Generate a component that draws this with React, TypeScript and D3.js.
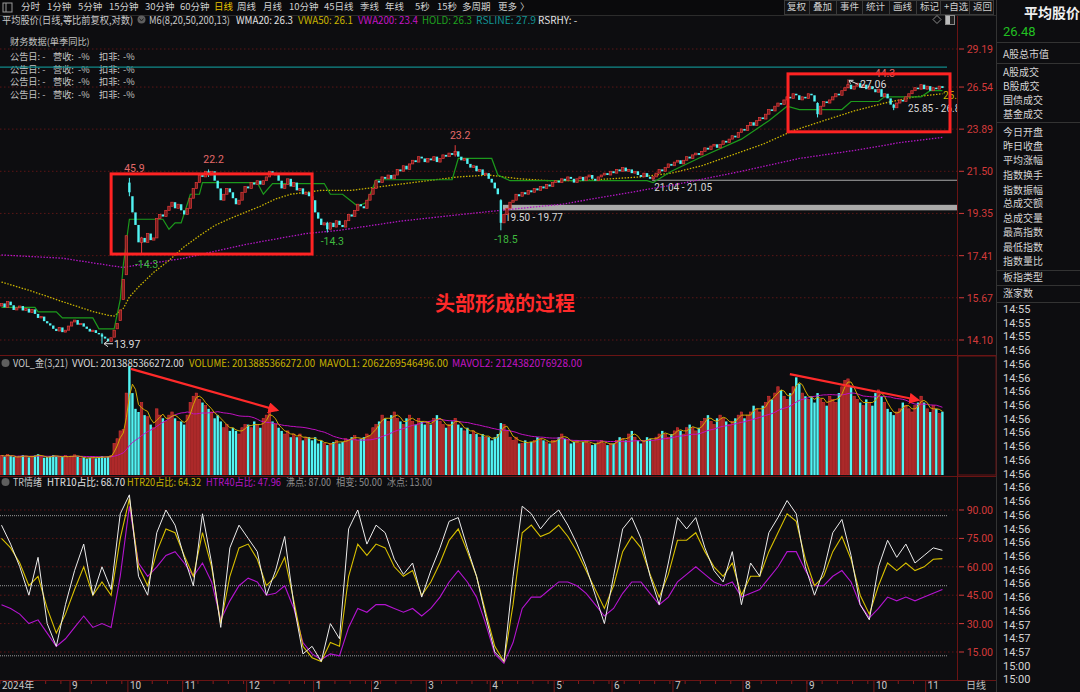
import React from "react";
import * as d3 from "d3";

const FONT = "'Noto Sans CJK SC','Noto Sans',sans-serif";
const NUMFONT = "Roboto,'Noto Sans',sans-serif";
const BG = "#0d0d10";
const UP = "#e23b3b";
const UP_FILL = "#7a1c1c";
const DOWN = "#52f4f4";
const GRID = "#5c1616";
const AXIS_RED = "#d23a3a";

// ---------------- data ----------------
const monthIdx = [23, 42, 60, 81, 103, 122, 140, 161, 182, 201, 221, 244, 265, 287, 304];
const monthLabels = ["9", "10", "11", "12", "1", "2", "3", "4", "5", "6", "7", "8", "9", "10", "11"];

const priceTicks = [29.19, 26.54, 23.89, 21.5, 19.35, 17.41, 15.67, 14.1];
const trTicks = [90, 75, 60, 45, 30, 15];
const trLevels = [87, 50, 13];

const closes = [
  15.45, 15.30, 15.52, 15.38, 15.20, 15.28, 15.35, 15.18, 15.25, 15.10,
  15.22, 15.05, 14.90, 14.95, 14.78, 14.70, 14.62, 14.50, 14.42, 14.55,
  14.38, 14.45, 14.60, 14.75, 14.82, 14.65, 14.70, 14.58, 14.50, 14.40,
  14.45, 14.35, 14.30, 14.22, 14.15, 14.05, 14.18, 14.45, 14.70, 15.20,
  16.40, 18.30, 20.40, 19.40, 18.80, 18.00, 18.20, 18.00, 18.40, 18.10,
  18.20, 19.10, 19.30, 19.20, 19.50, 19.70, 19.90, 19.60, 19.80, 19.50,
  19.30, 19.60, 20.10, 20.60, 20.90, 21.30, 21.20, 21.50, 21.30, 21.50,
  21.00, 20.60, 20.00, 20.30, 20.60, 20.40, 20.10, 19.80, 20.00, 20.40,
  20.70, 20.60, 20.90, 20.80, 21.00, 20.80, 21.00, 21.20, 21.50, 21.30,
  21.40, 21.00, 20.60, 20.80, 21.10, 20.70, 20.90, 20.50, 20.60, 20.30,
  20.40, 20.20, 20.00, 19.40, 19.10, 18.80, 18.90, 18.60, 18.90, 18.70,
  19.00, 18.80, 18.70, 19.00, 19.30, 19.20, 19.50, 19.80, 19.70, 19.60,
  20.00, 20.30, 20.60, 21.00, 20.90, 21.20, 21.10, 21.30, 21.10, 21.30,
  21.60, 21.50, 21.80, 21.60, 21.90, 22.10, 22.00, 22.30, 22.20, 22.00,
  22.20, 22.10, 22.30, 22.00, 22.20, 22.40, 22.30, 22.50, 22.40, 22.60,
  22.30, 22.10, 22.20, 21.90, 21.70, 21.80, 21.50, 21.60, 21.30, 21.40,
  21.10, 20.90, 20.60, 20.30, 18.90, 19.30, 19.60, 19.90, 20.00, 20.30,
  20.20, 20.40, 20.30, 20.50, 20.40, 20.60, 20.50, 20.70, 20.60, 20.80,
  20.70, 20.90, 21.00, 20.90, 21.10, 21.00, 21.20, 21.10, 20.90, 21.10,
  21.20, 21.00, 21.20, 21.30, 21.10, 21.00, 21.20, 21.30, 21.40, 21.30,
  21.50, 21.40, 21.60, 21.50, 21.70, 21.50, 21.60, 21.40, 21.50, 21.30,
  21.20, 21.40, 21.20, 21.10, 21.20, 21.40, 21.60, 21.50, 21.70, 21.90,
  21.80, 22.00, 22.10, 21.90, 22.10, 22.30, 22.20, 22.40, 22.50, 22.40,
  22.60, 22.80, 22.70, 22.90, 23.00, 22.80, 23.00, 23.20, 23.10, 23.30,
  23.50, 23.40, 23.70, 23.90, 23.80, 24.10, 24.30, 24.10, 24.40, 24.60,
  24.50, 24.80, 25.10, 25.00, 25.30, 25.50, 25.40, 25.70, 25.90, 25.80,
  26.10, 26.00, 25.70, 25.90, 25.80, 26.10, 26.00, 25.60, 24.80, 25.30,
  25.60, 25.50, 25.70, 25.90, 26.10, 26.00, 26.30, 26.50, 26.70, 26.40,
  26.60, 26.80, 26.50, 26.70, 26.40, 26.60, 26.40, 26.20, 26.40, 25.90,
  26.10, 25.80, 25.40, 25.20, 25.50, 25.70, 25.60, 25.90, 26.10, 26.30,
  26.50, 26.40, 26.70, 26.40, 26.60, 26.30, 26.50, 26.40, 26.60, 26.48,
];

const opens = [
  15.35, 15.45, 15.30, 15.52, 15.38, 15.20, 15.28, 15.35, 15.18, 15.25,
  15.10, 15.22, 15.05, 14.90, 14.95, 14.78, 14.70, 14.62, 14.50, 14.42,
  14.55, 14.38, 14.45, 14.60, 14.75, 14.82, 14.65, 14.70, 14.58, 14.50,
  14.40, 14.45, 14.35, 14.30, 14.22, 14.15, 14.05, 14.20, 14.50, 14.80,
  15.60, 16.60, 20.90, 20.20, 19.40, 18.80, 18.00, 18.20, 18.00, 18.40,
  18.10, 18.20, 19.10, 19.30, 19.20, 19.50, 19.70, 19.90, 19.60, 19.80,
  19.50, 19.30, 19.60, 20.10, 20.60, 20.90, 21.30, 21.20, 21.50, 21.30,
  21.50, 21.00, 20.60, 20.00, 20.30, 20.60, 20.40, 20.10, 19.80, 20.00,
  20.40, 20.70, 20.60, 20.90, 20.80, 21.00, 20.80, 21.00, 21.20, 21.50,
  21.30, 21.40, 21.00, 20.60, 20.80, 21.10, 20.70, 20.90, 20.50, 20.60,
  20.30, 20.40, 20.20, 20.00, 19.40, 19.10, 18.80, 18.90, 18.60, 18.90,
  18.70, 19.00, 18.80, 18.70, 19.00, 19.30, 19.20, 19.50, 19.80, 19.70,
  19.60, 20.00, 20.30, 20.60, 21.00, 20.90, 21.20, 21.10, 21.30, 21.10,
  21.30, 21.60, 21.50, 21.80, 21.60, 21.90, 22.10, 22.00, 22.30, 22.20,
  22.00, 22.20, 22.10, 22.30, 22.00, 22.20, 22.40, 22.30, 22.50, 22.40,
  22.60, 22.30, 22.10, 22.20, 21.90, 21.70, 21.80, 21.50, 21.60, 21.30,
  21.40, 21.10, 20.90, 20.60, 20.00, 18.90, 19.30, 19.60, 19.90, 20.00,
  20.30, 20.20, 20.40, 20.30, 20.50, 20.40, 20.60, 20.50, 20.70, 20.60,
  20.80, 20.70, 20.90, 21.00, 20.90, 21.10, 21.00, 21.20, 21.10, 20.90,
  21.10, 21.20, 21.00, 21.20, 21.30, 21.10, 21.00, 21.20, 21.30, 21.40,
  21.30, 21.50, 21.40, 21.60, 21.50, 21.70, 21.50, 21.60, 21.40, 21.50,
  21.30, 21.20, 21.40, 21.20, 21.10, 21.20, 21.40, 21.60, 21.50, 21.70,
  21.90, 21.80, 22.00, 22.10, 21.90, 22.10, 22.30, 22.20, 22.40, 22.50,
  22.40, 22.60, 22.80, 22.70, 22.90, 23.00, 22.80, 23.00, 23.20, 23.10,
  23.30, 23.50, 23.40, 23.70, 23.90, 23.80, 24.10, 24.30, 24.10, 24.40,
  24.60, 24.50, 24.80, 25.10, 25.00, 25.30, 25.50, 25.40, 25.70, 25.90,
  25.80, 26.10, 26.00, 25.70, 25.90, 25.80, 26.10, 26.00, 25.50, 24.80,
  25.30, 25.60, 25.50, 25.70, 25.90, 26.10, 26.00, 26.30, 26.50, 26.70,
  26.40, 26.60, 26.80, 26.50, 26.70, 26.40, 26.60, 26.40, 26.20, 26.40,
  25.90, 26.10, 25.80, 25.40, 25.20, 25.50, 25.70, 25.60, 25.90, 26.10,
  26.30, 26.50, 26.40, 26.70, 26.40, 26.60, 26.30, 26.50, 26.40, 26.60,
];

// [bar index, high, low] for bars with visible wicks
const extremes: [number, number, number][] = [
  [33, 14.35, 13.97], [42, 21.15, 20.2], [46, 18.25, 17.45], [68, 21.6, 21.2],
  [107, 18.95, 18.45], [149, 22.95, 22.3], [164, 20.05, 18.55], [214, 21.25, 21.04],
  [268, 25.55, 24.6], [278, 27.06, 26.45], [293, 25.45, 25.05],
];

// turnover, trillion yuan
const volumes = [
  0.62, 0.58, 0.65, 0.60, 0.57, 0.55, 0.60, 0.63, 0.58, 0.56,
  0.60, 0.62, 0.66, 0.58, 0.55, 0.57, 0.60, 0.63, 0.59, 0.56,
  0.58, 0.62, 0.55, 0.60, 0.64, 0.58, 0.54, 0.56, 0.52, 0.55,
  0.58, 0.53, 0.56, 0.60, 0.55, 0.58, 0.62,
  1.00, 1.15, 1.40, 1.45, 2.60,
  3.45, 2.60, 2.10, 2.00, 2.30, 1.90, 1.85, 1.60, 1.50, 2.10,
  1.90, 1.80, 1.70, 1.90, 2.00, 1.80, 1.70, 1.70,
  1.60, 1.90, 2.30, 2.50, 2.60, 2.40, 2.30, 2.20, 2.10, 2.00,
  1.80, 1.90, 1.70, 1.50, 1.60, 1.40, 1.50, 1.40, 1.30, 1.50, 1.60,
  1.60, 1.50, 1.70, 1.60, 1.50, 1.80, 1.90, 2.05, 1.70, 1.60,
  1.50, 1.40, 1.30, 1.40, 1.20, 1.30, 1.20, 1.30, 1.10, 1.20, 1.20, 1.10,
  1.20, 1.00, 1.10, 1.00, 0.95, 1.00, 1.05, 1.10, 1.00, 1.05,
  1.15, 1.10, 1.20, 1.25, 1.10, 1.15, 1.20, 1.30, 1.25,
  1.50, 1.60, 1.70, 1.90, 1.80, 1.70, 1.90, 2.00, 1.80, 1.70,
  1.60, 1.80, 1.90, 1.70, 1.60, 1.80, 1.70, 1.60,
  1.70, 1.60, 1.80, 1.90, 1.70, 1.60, 1.50, 1.60, 1.70, 1.80,
  1.60, 1.50, 1.40, 1.50, 1.30, 1.40, 1.30, 1.20, 1.30, 1.20, 1.20,
  1.10, 1.20, 1.30, 1.65, 1.60, 1.40, 1.20, 1.10, 1.20, 1.00,
  1.00, 1.10, 1.00, 1.05, 1.10, 1.20, 1.15, 1.10, 1.05, 1.00, 1.10,
  1.10, 1.20, 1.30, 1.15, 1.10, 1.00, 1.05, 1.10, 1.00, 1.05,
  1.10, 1.00, 0.95, 1.00, 1.05, 1.10, 1.00, 0.95, 1.00,
  1.00, 1.10, 1.20, 1.15, 1.10, 1.30, 1.40, 1.20, 1.10, 1.00,
  1.10, 1.20, 1.15, 1.10, 1.20, 1.30, 1.40, 1.30, 1.20, 1.30,
  1.40, 1.50, 1.40, 1.30, 1.50, 1.60, 1.50, 1.40, 1.50, 1.70,
  1.80, 1.90, 1.70, 1.60, 1.80, 1.90, 1.80, 1.70, 1.60, 1.70, 1.80, 1.90, 2.00,
  1.80, 1.90, 2.00, 2.20, 2.10, 2.00, 2.20, 2.30, 2.50, 2.40,
  2.60, 2.80, 2.70, 2.50, 2.40, 2.60, 2.80, 3.10, 2.90, 2.60, 2.50,
  2.40, 2.50, 2.30, 2.60, 2.40, 2.30, 2.20, 2.50, 2.40, 2.30,
  2.60, 2.80, 3.00, 3.05, 2.80, 2.50, 2.40, 2.30, 2.20, 2.40, 2.30, 2.20,
  2.60, 2.70, 2.50, 2.30, 2.10, 2.00, 1.90, 2.00, 2.10, 2.30,
  2.20, 2.10, 2.00, 2.20, 2.30, 2.50, 2.30,
  2.10, 2.00, 2.20, 2.10, 1.95, 2.01,
];

// price indicator lines, sampled at bar indices
const vwa50Idx = [0, 10, 20, 30, 35, 37, 40, 42, 45, 50, 55, 60, 65, 70, 75, 80, 85, 90, 95, 100, 105, 110, 115, 120, 130, 140, 150, 160, 170, 180, 190, 200, 210, 220, 230, 240, 250, 260, 270, 280, 290, 300, 309];
const vwa50 = [16.3, 15.93, 15.52, 15.14, 15.0, 14.97, 15.26, 15.7, 16.1, 16.7, 17.2, 17.8, 18.3, 18.77, 19.1, 19.4, 19.7, 20.06, 20.3, 20.4, 20.5, 20.5, 20.5, 20.6, 20.8, 21.0, 21.2, 21.3, 21.1, 21.0, 21.0, 21.1, 21.2, 21.4, 21.8, 22.4, 23.0, 23.8, 24.4, 25.0, 25.5, 25.9, 26.1];
const vwa200Idx = [0, 20, 40, 42, 50, 60, 70, 80, 90, 100, 111, 131, 151, 164, 184, 203, 223, 243, 262, 282, 295, 309];
const vwa200 = [17.44, 17.3, 16.9, 16.95, 17.1, 17.3, 17.6, 17.9, 18.15, 18.4, 18.55, 18.98, 19.3, 19.5, 19.8, 20.3, 20.85, 21.5, 22.2, 22.7, 23.1, 23.4];
const holdIdx = [0, 11, 12, 18, 20, 30, 32, 37, 39, 40, 42, 53, 55, 57, 59, 61, 62, 65, 66, 84, 86, 89, 106, 108, 112, 117, 120, 123, 148, 150, 161, 163, 167, 212, 214, 220, 230, 243, 252, 258, 262, 276, 279, 288, 290, 302, 305, 309];
const hold = [15.3, 15.3, 15.13, 15.13, 14.9, 14.9, 14.5, 14.5, 15.6, 17.0, 19.07, 19.07, 18.6, 18.9, 18.9, 19.8, 20.3, 20.3, 20.9, 20.9, 20.3, 20.85, 20.85, 20.3, 20.3, 19.7, 19.9, 21.05, 21.05, 22.2, 22.2, 21.3, 21.0, 21.0, 20.9, 21.5, 22.3, 23.3, 24.4, 25.3, 25.09, 25.09, 25.6, 25.6, 25.9, 25.9, 26.3, 26.3];
const rsLine = 27.9;

// TR sentiment, one sample every 3 bars
const trWhite = [82, 72, 60, 45, 65, 30, 18, 40, 58, 72, 45, 60, 48, 88, 98, 55, 45, 78, 90, 82, 65, 50, 88, 62, 28, 70, 82, 75, 68, 45, 58, 76, 40, 14, 18, 10, 30, 22, 80, 90, 72, 82, 78, 64, 56, 62, 44, 58, 70, 84, 86, 70, 55, 34, 15, 10, 55, 92, 88, 80, 86, 90, 82, 72, 60, 45, 30, 55, 80, 86, 75, 55, 40, 62, 86, 80, 86, 70, 58, 52, 68, 40, 62, 55, 78, 86, 95, 88, 60, 45, 58, 78, 85, 66, 40, 32, 60, 74, 65, 72, 62, 66, 70, 68.7];
const trYellow = [75, 70, 62, 50, 55, 38, 25, 35, 48, 60, 45, 52, 45, 75, 96, 60, 50, 68, 80, 78, 66, 55, 78, 60, 30, 55, 70, 72, 64, 50, 55, 65, 42, 18, 12, 10, 20, 18, 55, 72, 66, 72, 70, 60, 55, 58, 45, 52, 62, 74, 80, 68, 55, 36, 18, 10, 40, 78, 82, 76, 78, 82, 76, 68, 58, 48, 38, 50, 68, 76, 70, 56, 44, 56, 74, 74, 78, 68, 60, 55, 62, 45, 55, 55, 68, 78, 88, 84, 64, 50, 55, 68, 76, 64, 45, 35, 50, 62, 58, 62, 58, 60, 64, 64.32];
const trPurple = [40, 38, 35, 30, 32, 25, 18, 22, 28, 34, 28, 30, 28, 55, 92, 62, 55, 60, 66, 68, 62, 55, 62, 52, 32, 42, 50, 54, 52, 45, 46, 50, 38, 20, 14, 11, 14, 13, 28, 38, 36, 40, 40, 38, 36, 38, 34, 38, 44, 52, 58, 52, 44, 30, 14, 9, 20, 38, 44, 44, 48, 52, 52, 50, 46, 40, 34, 38, 46, 52, 52, 46, 40, 44, 52, 56, 60, 56, 52, 50, 52, 44, 46, 48, 54, 60, 68, 68, 58, 50, 50, 55, 58, 52, 40, 33, 38, 44, 42, 44, 42, 44, 46, 47.96];

const swingLabels = [
  { i: 42, price: 21.15, text: "45.9", high: true },
  { i: 46, price: 17.45, text: "-14.3", high: false },
  { i: 68, price: 21.6, text: "22.2", high: true },
  { i: 107, price: 18.45, text: "-14.3", high: false },
  { i: 149, price: 22.95, text: "23.2", high: true },
  { i: 164, price: 18.55, text: "-18.5", high: false },
];
const gaps = [
  { i: 214, lo: 21.04, hi: 21.05, label: "21.04 - 21.05" },
  { i: 165, lo: 19.5, hi: 19.77, label: "19.50 - 19.77" },
];
const boxes = [
  { i0: 36, i1: 102, hi: 21.36, lo: 17.48 },
  { i0: 258.3, i1: 311.5, hi: 27.43, lo: 23.73 },
];
const volArrows = [
  { i0: 42.5, v0: 3.37, i1: 90.5, v1: 2.06 },
  { i0: 258.9, v0: 3.2, i1: 301, v1: 2.38 },
];

const toolbar: [string, number][] = [["分时", 21], ["1分钟", 47], ["5分钟", 78], ["15分钟", 109], ["30分钟", 145], ["60分钟", 180], ["日线", 214], ["周线", 237], ["月线", 263], ["10分钟", 289], ["45日线", 324], ["季线", 360], ["年线", 385], ["5秒", 415], ["15秒", 437], ["多周期", 462], ["更多", 498], ["〉", 520]];
const buttons: [string, number][] = [["复权", 787], ["叠加", 813], ["事件", 840], ["统计", 866], ["画线", 893], ["标记", 920], ["+自选", 944], ["返回", 973]];
const panelItems: [string, number][] = [["A股总市值", 54], [" A股成交", 72], [" B股成交", 86], ["国债成交", 100], ["基金成交", 114], ["今日开盘", 132], ["昨日收盘", 146], ["平均涨幅", 160], ["指数换手", 175], ["指数振幅", 190], ["总成交额", 203], ["总成交量", 218], ["最高指数", 232], ["最低指数", 247], ["指数量比", 261], ["板指类型", 277], ["涨家数", 293]];
const times = ["14:55", "14:55", "14:55", ...Array(20).fill("14:56"), "14:57", "14:57", "14:57", "15:00", "15:00"];

function movingAvg(arr: number[], p: number) {
  return arr.map((_, i) => d3.mean(arr.slice(Math.max(0, i - p + 1), i + 1)) as number);
}

export default function App() {
  const n = Math.min(closes.length, opens.length);
  const x = d3.scaleLinear().domain([0, 309]).range([1.5, 942.4]);
  const yP = d3.scaleLog().domain([14.1, 29.19]).range([340, 49]);
  const yV = d3.scaleLinear().domain([0, 3.65]).range([475, 360]);
  const yT = d3.scaleLinear().domain([15, 90]).range([652, 510]);
  const xT = d3.scaleLinear().domain([0, trWhite.length - 1]).range([x(0), x(309)]);

  const pLine = (idx: number[], vals: number[]) =>
    d3.line<number>().x((_, k) => x(idx[k])).y((v) => yP(v))(vals) || "";
  const tLine = (vals: number[]) =>
    d3.line<number>().x((_, k) => xT(k)).y((v) => yT(v))(vals) || "";
  const mav1 = movingAvg(volumes, 3);
  const mav2 = movingAvg(volumes, 21);
  const vLine = (vals: number[]) =>
    d3.line<number>().x((_, k) => x(k)).y((v) => yV(v))(vals) || "";
  const extMap = new Map(extremes.map((e) => [e[0], e]));

  const txt = (props: any, s: string) => (
    <text fontFamily={FONT} {...props}>{s}</text>
  );

  return (
    <div style={{ position: "fixed", left: 0, top: 0, width: 1080, height: 692, background: BG }}>
      <svg width={1080} height={692} style={{ display: "block" }}>
        <defs>
          <clipPath id="mainClip"><rect x={0} y={28} width={957} height={326} /></clipPath>
          <clipPath id="volClip"><rect x={0} y={357} width={957} height={118} /></clipPath>
          <clipPath id="trClip"><rect x={0} y={488} width={957} height={192} /></clipPath>
          <marker id="arrowRed" viewBox="0 0 10 10" refX="8" refY="5" markerWidth="5" markerHeight="5" orient="auto">
            <path d="M0,0 L10,5 L0,10 z" fill="#ff2a2a" />
          </marker>
        </defs>
        <rect width={1080} height={692} fill={BG} />

        {/* top toolbar */}
        <rect x={0} y={0} width={996} height={15} fill="#0a0a0c" />
        <rect x={3} y={3} width={9} height={9} fill="none" stroke="#9a9a9a" strokeWidth={1} />
        <line x1={6} y1={3} x2={6} y2={12} stroke="#9a9a9a" />
        {toolbar.map(([t, px]) => txt({ key: t + px, x: px, y: 9.8, fontSize: 9.5, fill: t === "日线" ? "#e6c300" : "#cfcfcf" }, t))}
        <line x1={0} y1={15.5} x2={996} y2={15.5} stroke="#2c2c2c" />
        <rect x={784.5} y={0.5} width={209} height={14} fill="#121214" stroke="#3a3a3a" />
        {buttons.map(([t, px], k) => (
          <g key={t}>
            {txt({ x: px, y: 9.8, fontSize: 9.5, fill: "#cfcfcf" }, t)}
            {k > 0 && <line x1={px - 3.5} y1={1} x2={px - 3.5} y2={14} stroke="#3a3a3a" />}
          </g>
        ))}

        {/* legend line of main chart */}
        {txt({ x: 2, y: 24, fontSize: 10, fill: "#c8c8c8", textLength: 131, lengthAdjust: "spacingAndGlyphs" }, "平均股价(日线,等比前复权,对数)")}
        <circle cx={141.5} cy={19.5} r={4} fill="#5e5e5e" />
        <path d="M139.5,18.5 L141.5,21 L143.5,18.5" stroke="#1a1a1a" fill="none" strokeWidth={1} />
        {txt({ x: 149, y: 24, fontSize: 10, fill: "#c8c8c8", textLength: 81, lengthAdjust: "spacingAndGlyphs" }, "M6(8,20,50,200,13)")}
        {txt({ x: 236, y: 24, fontSize: 10, fill: "#e2e2e2", textLength: 57, lengthAdjust: "spacingAndGlyphs" }, "WMA20: 26.3")}
        {txt({ x: 298, y: 24, fontSize: 10, fill: "#c9b300", textLength: 55, lengthAdjust: "spacingAndGlyphs" }, "VWA50: 26.1")}
        {txt({ x: 358, y: 24, fontSize: 10, fill: "#c414c4", textLength: 60, lengthAdjust: "spacingAndGlyphs" }, "VWA200: 23.4")}
        {txt({ x: 422, y: 24, fontSize: 10, fill: "#1fa21f", textLength: 50, lengthAdjust: "spacingAndGlyphs" }, "HOLD: 26.3")}
        {txt({ x: 476, y: 24, fontSize: 10, fill: "#119494", textLength: 60, lengthAdjust: "spacingAndGlyphs" }, "RSLINE: 27.9")}
        {txt({ x: 538, y: 24, fontSize: 10, fill: "#e2e2e2" }, "RSRHY: -")}
        <path d="M937,15.5 L941,19.5 L937,23.5 L933,19.5 Z" fill="none" stroke="#8a8a8a" />
        <rect x={945.5} y={15.5} width={9} height={9} fill="#222" stroke="#8a8a8a" />
        <rect x={946} y={16} width={4} height={8} fill="#bbb" />

        {/* main panel grid */}
        {priceTicks.map((p) => (
          <g key={"pg" + p}>
            <line x1={0} x2={957} y1={yP(p)} y2={yP(p)} stroke={GRID} strokeDasharray="1.5 2.5" />
            <line x1={959} x2={964} y1={yP(p)} y2={yP(p)} stroke={AXIS_RED} />
            {txt({ x: 993, y: yP(p) + 4, fontSize: 10.5, fontFamily: NUMFONT, fill: AXIS_RED, textAnchor: "end" }, p.toFixed(2))}
          </g>
        ))}

        {/* financial block */}
        {txt({ x: 10, y: 45, fontSize: 9.2, fill: "#c4c4c4" }, "财务数据(单季同比)")}
        {[60, 72.7, 85.4, 98.1].map((yy) => (
          <g key={"fin" + yy}>
            {txt({ x: 10, y: yy, fontSize: 9.2, fill: "#c4c4c4" }, "公告日: -")}
            {txt({ x: 53, y: yy, fontSize: 9.2, fill: "#c4c4c4" }, "营收:")}
            {txt({ x: 78, y: yy, fontSize: 9.2, fill: "#c4c4c4" }, "-%")}
            {txt({ x: 99, y: yy, fontSize: 9.2, fill: "#c4c4c4" }, "扣非:")}
            {txt({ x: 123, y: yy, fontSize: 9.2, fill: "#c4c4c4" }, "-%")}
          </g>
        ))}

        <g clipPath="url(#mainClip)">
          {/* RS line */}
          <line x1={0} x2={947} y1={yP(rsLine)} y2={yP(rsLine)} stroke="#108a8a" strokeWidth={1.4} />
          {/* gap bands */}
          {gaps.map((g) => (
            <g key={g.label}>
              <rect x={x(g.i) - 1} width={957 - x(g.i) + 1} y={yP(g.hi)} height={Math.max(1, yP(g.lo) - yP(g.hi))} fill="#a9a9a9" />
              {txt({ x: x(g.i) + 1, y: yP(g.lo) + 11, fontSize: 10, fontFamily: NUMFONT, fill: "#d8d8d8" }, g.label)}
            </g>
          ))}
          {txt({ x: 908, y: 112, fontSize: 10, fontFamily: NUMFONT, fill: "#d8d8d8" }, "25.85 - 26.80")}
          {/* MA lines */}
          <path d={pLine(vwa200Idx, vwa200)} fill="none" stroke="#b316c4" strokeWidth={1.3} strokeDasharray="1.5 1.5" />
          <path d={pLine(vwa50Idx, vwa50)} fill="none" stroke="#c9b300" strokeWidth={1.3} strokeDasharray="1.5 1.5" />
          <path d={pLine(holdIdx, hold)} fill="none" stroke="#1c9a1c" strokeWidth={1.2} />
          {txt({ x: 943, y: 99, fontSize: 10, fontFamily: NUMFONT, fill: "#c9b300" }, "25.8")}
          {/* candles */}
          {d3.range(n).map((i) => {
            const o = opens[i], c = closes[i];
            const up = c >= o;
            const col = up ? UP : DOWN;
            const top = yP(Math.max(o, c)), bot = yP(Math.min(o, c));
            const e = extMap.get(i);
            return (
              <g key={"c" + i}>
                {e && <line x1={x(i)} x2={x(i)} y1={yP(e[1])} y2={yP(e[2])} stroke={col} strokeWidth={1} />}
                <rect x={x(i) - 1.2} width={2.4} y={top} height={Math.max(1, bot - top)}
                  fill={up ? UP_FILL : DOWN} stroke={up ? UP : "none"} strokeWidth={up ? 0.7 : 0} />
              </g>
            );
          })}
          {/* swing labels */}
          {swingLabels.map((s) =>
            txt({
              key: "s" + s.i, x: x(s.i) + 5, y: s.high ? yP(s.price) - 6 : yP(s.price) + 13,
              fontSize: 10.5, fontFamily: NUMFONT, textAnchor: "middle", fill: s.high ? "#e46a6a" : "#3fb83f",
            }, s.text)
          )}
          {/* low/high markers */}
          <line x1={x(33) + 11} y1={yP(13.97)} x2={x(33) + 2} y2={yP(13.97)} stroke="#dcdcdc" strokeWidth={1} />
          <path d={`M${x(33) + 2},${yP(13.97)} l4,-3 M${x(33) + 2},${yP(13.97)} l4,3`} stroke="#dcdcdc" fill="none" />
          {txt({ x: x(33) + 12, y: yP(13.97) + 4, fontSize: 10.5, fontFamily: NUMFONT, fill: "#dcdcdc" }, "13.97")}
          {txt({ x: x(278) + 37, y: yP(27.06) - 2, fontSize: 10.5, fontFamily: NUMFONT, fill: "#e46a6a", textAnchor: "middle" }, "44.3")}
          <line x1={x(278) + 1} y1={yP(27.06) + 1} x2={x(278) + 10} y2={yP(27.06) + 5} stroke="#dcdcdc" />
          <path d={`M${x(278) + 1},${yP(27.06) + 1} l4.5,0 M${x(278) + 1},${yP(27.06) + 1} l1.5,3.5`} stroke="#dcdcdc" fill="none" />
          {txt({ x: x(278) + 12, y: yP(27.06) + 9, fontSize: 10.5, fontFamily: NUMFONT, fill: "#dcdcdc" }, "27.06")}
          {/* annotation boxes */}
          {boxes.map((b, k) => (
            <rect key={"b" + k} x={x(b.i0)} y={yP(b.hi)} width={x(b.i1) - x(b.i0)} height={yP(b.lo) - yP(b.hi)}
              fill="none" stroke="#ff2323" strokeWidth={3} />
          ))}
        </g>
        {txt({ x: 435, y: 311, fontSize: 20, fontWeight: 700, fill: "#ff2a2a" }, "头部形成的过程")}

        {/* panel frames */}
        <line x1={957.5} x2={957.5} y1={16} y2={680} stroke="#6a1414" />
        <line x1={996.5} x2={996.5} y1={0} y2={692} stroke="#333" />
        <line x1={0} x2={996} y1={355.5} y2={355.5} stroke="#6a1414" />
        <line x1={0} x2={996} y1={476.5} y2={476.5} stroke="#6a1414" />
        <line x1={0} x2={996} y1={680.5} y2={680.5} stroke="#6a1414" />
        <rect x={958} y={356} width={38} height={119} fill="none" stroke="#6a1414" />

        {/* volume panel */}
        <circle cx={5.5} cy={363} r={4} fill="#5e5e5e" />
        {txt({ x: 13, y: 367, fontSize: 10.5, fill: "#c8c8c8", textLength: 55, lengthAdjust: "spacingAndGlyphs" }, "VOL_金(3,21)")}
        {txt({ x: 72, y: 367, fontSize: 10.5, fill: "#dadada", textLength: 112, lengthAdjust: "spacingAndGlyphs" }, "VVOL: 2013885366272.00")}
        {txt({ x: 189, y: 367, fontSize: 10.5, fill: "#c9b300", textLength: 126, lengthAdjust: "spacingAndGlyphs" }, "VOLUME: 2013885366272.00")}
        {txt({ x: 319, y: 367, fontSize: 10.5, fill: "#c9b300", textLength: 129, lengthAdjust: "spacingAndGlyphs" }, "MAVOL1: 2062269546496.00")}
        {txt({ x: 452, y: 367, fontSize: 10.5, fill: "#c414c4", textLength: 130, lengthAdjust: "spacingAndGlyphs" }, "MAVOL2: 2124382076928.00")}
        <g clipPath="url(#volClip)">
          {volumes.slice(0, n).map((v, i) => {
            const up = closes[i] >= opens[i];
            return (
              <rect key={"v" + i} x={x(i) - 1.2} width={2.4} y={yV(v)} height={yV(0) - yV(v)}
                fill={up ? "#a02626" : DOWN} stroke={up ? "#d83434" : "none"} strokeWidth={up ? 0.6 : 0} />
            );
          })}
          <path d={vLine(mav2)} fill="none" stroke="#c010c0" strokeWidth={1} />
          <path d={vLine(mav1)} fill="none" stroke="#d2a800" strokeWidth={1} />
          {volArrows.map((a, k) => (
            <line key={"va" + k} x1={x(a.i0)} y1={yV(a.v0)} x2={x(a.i1)} y2={yV(a.v1)} stroke="#ff2a2a" strokeWidth={2.2} markerEnd="url(#arrowRed)" />
          ))}
        </g>

        {/* TR panel */}
        <circle cx={5.5} cy={482} r={4} fill="#5e5e5e" />
        {txt({ x: 13, y: 486, fontSize: 10.5, fill: "#c8c8c8", textLength: 29, lengthAdjust: "spacingAndGlyphs" }, "TR情绪")}
        {txt({ x: 47, y: 486, fontSize: 10.5, fill: "#e2e2e2", textLength: 78, lengthAdjust: "spacingAndGlyphs" }, "HTR10占比: 68.70")}
        {txt({ x: 127, y: 486, fontSize: 10.5, fill: "#c9b300", textLength: 74, lengthAdjust: "spacingAndGlyphs" }, "HTR20占比: 64.32")}
        {txt({ x: 206, y: 486, fontSize: 10.5, fill: "#b414c4", textLength: 75, lengthAdjust: "spacingAndGlyphs" }, "HTR40占比: 47.96")}
        {txt({ x: 286, y: 486, fontSize: 10.5, fill: "#8c8c8c", textLength: 45, lengthAdjust: "spacingAndGlyphs" }, "沸点: 87.00")}
        {txt({ x: 336, y: 486, fontSize: 10.5, fill: "#8c8c8c", textLength: 46, lengthAdjust: "spacingAndGlyphs" }, "相变: 50.00")}
        {txt({ x: 387, y: 486, fontSize: 10.5, fill: "#8c8c8c", textLength: 45, lengthAdjust: "spacingAndGlyphs" }, "冰点: 13.00")}
        {trTicks.map((v) => (
          <g key={"tt" + v}>
            <line x1={0} x2={957} y1={yT(v)} y2={yT(v)} stroke={GRID} strokeDasharray="1.5 2.5" />
            <line x1={959} x2={964} y1={yT(v)} y2={yT(v)} stroke={AXIS_RED} />
            {txt({ x: 993, y: yT(v) + 4, fontSize: 10.5, fontFamily: NUMFONT, fill: AXIS_RED, textAnchor: "end" }, v.toFixed(2))}
          </g>
        ))}
        {trLevels.map((v) => (
          <line key={"tl" + v} x1={0} x2={947} y1={yT(v)} y2={yT(v)} stroke="#9a9a9a" strokeDasharray="1 1" />
        ))}
        <g clipPath="url(#trClip)">
          <path d={tLine(trPurple)} fill="none" stroke="#b414d0" strokeWidth={1.1} />
          <path d={tLine(trYellow)} fill="none" stroke="#d8c000" strokeWidth={1.1} />
          <path d={tLine(trWhite)} fill="none" stroke="#ececec" strokeWidth={1} />
        </g>

        {/* time axis */}
        {d3.range(0, 310, 5).map((i) => (
          <line key={"mt" + i} x1={x(i) - 1.5} x2={x(i) - 1.5} y1={681} y2={684} stroke="#8a1c1c" />
        ))}
        {monthIdx.map((i, k) => (
          <g key={"m" + k}>
            <line x1={x(i) - 1.5} x2={x(i) - 1.5} y1={681} y2={692} stroke="#7a1818" />
            {txt({ x: x(i) + 0.5, y: 689, fontSize: 10, fontFamily: NUMFONT, fill: "#c8c8c8" }, monthLabels[k])}
          </g>
        ))}
        {txt({ x: 2, y: 689, fontSize: 10, fill: "#c8c8c8" }, "2024年")}
        {txt({ x: 966, y: 689, fontSize: 10, fill: "#c0c0c0" }, "日线")}

        {/* right info panel */}
        {txt({ x: 1024, y: 18, fontSize: 14, fontWeight: 700, fill: "#f0f0f0" }, "平均股价")}
        {txt({ x: 1003, y: 36, fontSize: 13, fontFamily: NUMFONT, fill: "#22c022" }, "26.48")}
        {[42, 63, 122, 270, 285, 302].map((yy) => (
          <line key={"sep" + yy} x1={997} x2={1080} y1={yy + 0.5} y2={yy + 0.5} stroke="#333" />
        ))}
        {panelItems.map(([t, yy]) => txt({ key: t, x: 1003, y: yy + 4, fontSize: 10, fill: "#d4d4d4" }, t))}
        {times.map((t, k) => txt({ key: "tm" + k, x: 1003, y: 309 + k * 13.72 + 4, fontSize: 11, fontFamily: NUMFONT, fill: "#d4d4d4" }, t))}
      </svg>
    </div>
  );
}
